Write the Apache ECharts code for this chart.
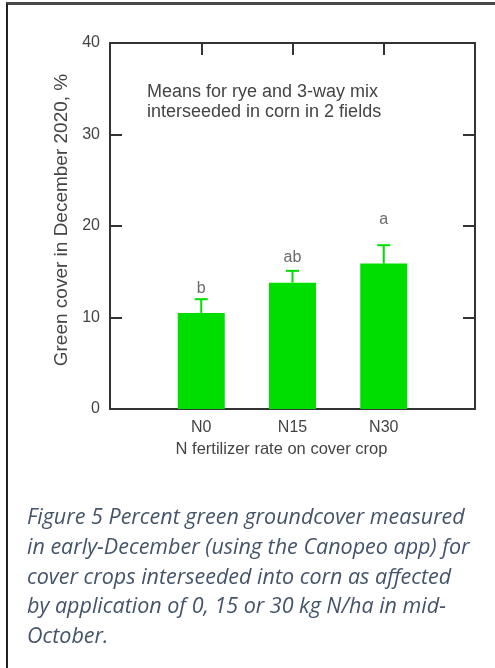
<!DOCTYPE html>
<html><head><meta charset="utf-8">
<script src="https://cdn.jsdelivr.net/npm/echarts@6/dist/echarts.min.js"></script>
<style>
html,body{margin:0;padding:0;background:#fff;}
#chart{position:absolute;left:0;top:0;width:495px;height:668px;}
#border{position:absolute;left:6px;top:2px;width:489px;height:666px;border-top:3px solid #4a4a4a;border-left:2px solid #222;box-sizing:border-box;pointer-events:none;}
</style></head>
<body>
<div id="chart"></div><div id="border"></div>
<script>
const categories = ['N0', 'N15', 'N30'];
const means = [10.5, 13.8, 15.9];
const upperErr = [12.0, 15.1, 17.9];
const letters = ['b', 'ab', 'a'];
const letterY = [13.2, 16.6, 20.7];
const yMin = 0, yMax = 40, yStep = 10;
const yTitle = 'Green cover in December 2020, %';
const xTitle = 'N fertilizer rate on cover crop';
const note = 'Means for rye and 3-way mix\ninterseeded in corn in 2 fields';
const caption = 'Figure 5 Percent green groundcover measured\nin early-December (using the Canopeo app) for\ncover crops interseeded into corn as affected\nby application of 0, 15 or 30 kg N/ha in mid-\nOctober.';

const GREEN = '#00DD00';
const AX = {color: '#333', width: 2};
const FONT = '"Liberation Sans", Arial, sans-serif';

const chart = echarts.init(document.getElementById('chart'));
chart.setOption({
  animation: false,
  backgroundColor: '#fff',
  title: [
    {text: note, left: 147, top: 82, padding: 0,
     textStyle: {fontFamily: FONT, fontSize: 18, fontWeight: 'normal', color: '#444', lineHeight: 20}},
    {text: caption, left: 27, top: 503, padding: 0,
     textStyle: {fontFamily: '"Open Sans", Lato, sans-serif', fontStyle: 'italic', fontSize: 21.5, fontWeight: 'normal', color: '#44546A', lineHeight: 29.75}}
  ],
  grid: {left: 110, top: 43, width: 365, height: 366, containLabel: false},
  xAxis: [
    {type: 'value', position: 'bottom', min: 0, max: categories.length + 1, interval: 1,
     axisLine: {show: true, onZero: false, lineStyle: AX}, axisTick: {show: false}, splitLine: {show: false},
     axisLabel: {margin: 11, fontFamily: FONT, fontSize: 16, color: '#444',
       formatter: v => categories[v - 1] || ''},
     name: xTitle, nameLocation: 'middle', nameGap: 31,
     nameTextStyle: {fontFamily: FONT, fontSize: 16.5, color: '#444', padding: [0, 22, 0, 0]}},
    {type: 'value', position: 'top', min: 0, max: categories.length + 1, interval: 1,
     axisLine: {show: true, onZero: false, lineStyle: AX}, axisTick: {show: true, inside: true, length: 12, lineStyle: AX},
     axisLabel: {show: false}, splitLine: {show: false}}
  ],
  yAxis: [
    {type: 'value', position: 'left', min: yMin, max: yMax, interval: yStep,
     axisLine: {show: true, onZero: false, lineStyle: AX}, axisTick: {show: true, inside: true, length: 12, lineStyle: AX},
     splitLine: {show: false},
     axisLabel: {margin: 10, fontFamily: FONT, fontSize: 16, color: '#444'},
     name: yTitle, nameLocation: 'middle', nameGap: 38, nameRotate: 90,
     nameTextStyle: {fontFamily: FONT, fontSize: 19, color: '#444', padding: [0, 0, 0, 12]}},
    {type: 'value', position: 'right', min: yMin, max: yMax, interval: yStep,
     axisLine: {show: true, onZero: false, lineStyle: AX}, axisTick: {show: true, inside: true, length: 12, lineStyle: AX},
     splitLine: {show: false}, axisLabel: {show: false}}
  ],
  series: [
    {type: 'bar', xAxisIndex: 0, yAxisIndex: 0, barWidth: 47, z: 3,
     itemStyle: {color: GREEN},
     data: means.map((v, i) => [i + 1, v])},
    {type: 'custom', xAxisIndex: 0, yAxisIndex: 0, z: 4,
     data: means.map((v, i) => [i + 1, v, upperErr[i]]),
     renderItem: (params, api) => {
       const x = api.value(0);
       const p0 = api.coord([x, api.value(1)]);
       const p1 = api.coord([x, api.value(2)]);
       const half = 6.5;
       return {type: 'group', children: [
         {type: 'line', shape: {x1: p0[0], y1: p0[1], x2: p1[0], y2: p1[1]}, style: {stroke: GREEN, lineWidth: 2}},
         {type: 'line', shape: {x1: p1[0] - half, y1: p1[1], x2: p1[0] + half, y2: p1[1]}, style: {stroke: GREEN, lineWidth: 2}}
       ]};
     }},
    {type: 'scatter', xAxisIndex: 0, yAxisIndex: 0, symbolSize: 0, z: 5,
     data: letterY.map((v, i) => [i + 1, v]),
     label: {show: true, position: 'inside', fontFamily: FONT, fontSize: 16, color: '#444',
       formatter: p => letters[p.dataIndex]}}
  ]
});
</script>
</body></html>
